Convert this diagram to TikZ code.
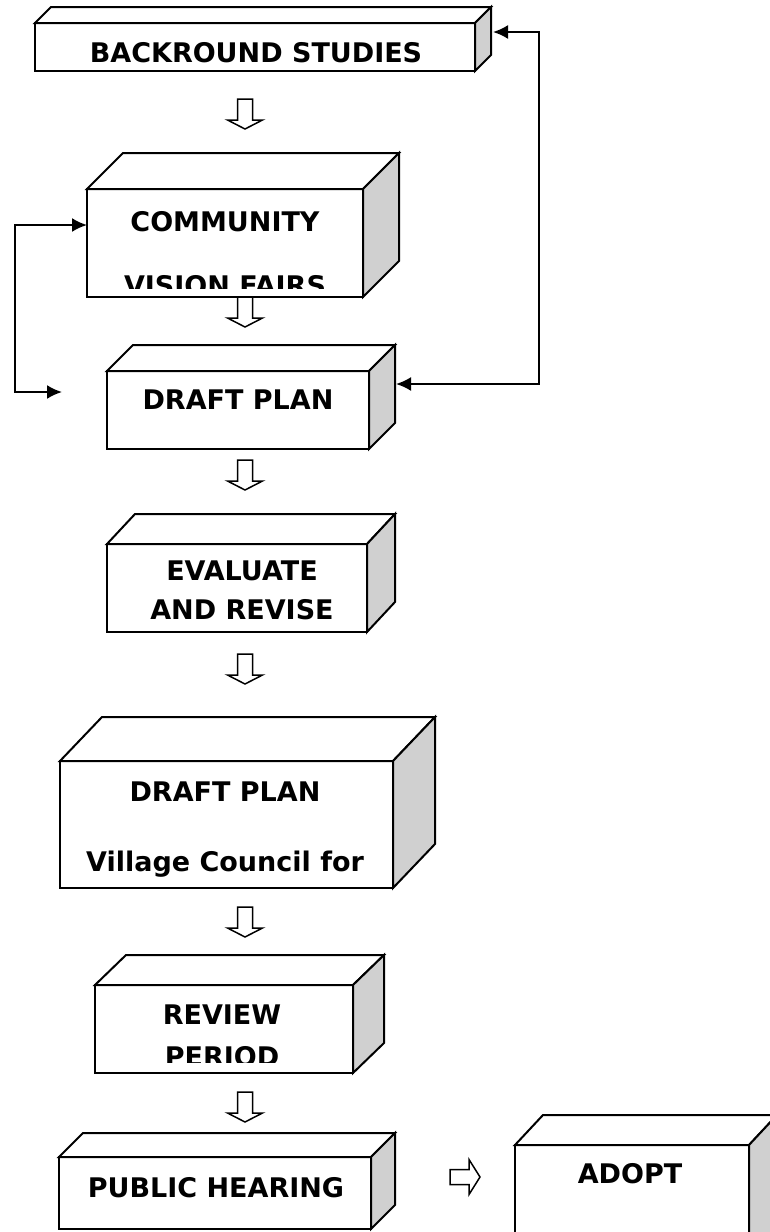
\documentclass[tikz,border=0pt]{standalone}
\usepackage{fontspec}
\setmainfont{DejaVu Sans}
\usetikzlibrary{arrows.meta}
\definecolor{sidegray}{RGB}{208,208,208}
\newcommand\threedbox[7]{%
  \node[frontface, minimum width=#4pt, minimum height=#5pt] (#1) at (#2,#3) {};
  \draw[topface] (#1.north west) -- ++(#6,-#7) -- ([shift={(#6,-#7)}]#1.north east) -- (#1.north east) -- cycle;
  \draw[sideface] (#1.north east) -- ++(#6,-#7) -- ([shift={(#6,-#7)}]#1.south east) -- (#1.south east) -- cycle;
}
\newcommand\flowarrow[3]{% name, x center, y top
  \draw[hollow] (#2-7.5,#3) coordinate (#1) -- (#2+7.5,#3) -- (#2+7.5,#3+21) -- (#2+17.5,#3+21) -- (#2,#3+30) -- (#2-17.5,#3+21) -- (#2-7.5,#3+21) -- cycle;
}
\begin{document}
\begin{tikzpicture}[x=1pt,y=-1pt,
  frontface/.style={draw=black, fill=white, line width=2pt, inner sep=0pt, outer sep=0pt, anchor=north west},
  topface/.style={draw=black, fill=white, line width=2pt, line join=miter},
  sideface/.style={draw=black, fill=sidegray, line width=2pt, line join=miter},
  lbl/.style={font=\bfseries\fontsize{27}{27}\selectfont, inner sep=0pt, anchor=center},
  hollow/.style={draw=black, fill=white, line width=1.5pt, line join=miter},
  fb/.style={line width=2pt, {Latex[length=15pt,width=14pt]}-{Latex[length=15pt,width=14pt]}}
]
\useasboundingbox (0,0) rectangle (770,1232);

% boxes
\threedbox{b1}{35}{23}{440}{48}{16}{16}
\threedbox{b2}{87}{189}{276}{108}{36}{36}
\threedbox{b3}{107}{371}{262}{78}{26}{26}
\threedbox{b4}{107}{544}{260}{88}{28}{30}
\threedbox{b5}{60}{761}{333}{127}{42}{44}
\threedbox{b6}{95}{985}{258}{88}{31}{30}
\threedbox{b7}{59}{1157}{312}{72}{24}{24}
\threedbox{b8}{515}{1145}{234}{120}{28}{30}

% labels (clipped to the front faces)
\begin{scope}
  \clip (b1.north west) rectangle ([yshift=7pt]b1.south east);
  \node[lbl] (t1) at (256,53) {BACKROUND STUDIES};
\end{scope}
\begin{scope}
  \clip (b2.north west) rectangle ([yshift=9pt]b2.south east);
  \node[lbl] (t2a) at (225,222) {COMMUNITY};
  \node[lbl] (t2b) at (225,286) {VISION FAIRS};
\end{scope}
\node[lbl] (t3) at (238,400) {DRAFT PLAN};
\node[lbl] (t4a) at (242,571) {EVALUATE};
\node[lbl] (t4b) at (242,610) {AND REVISE};
\node[lbl] (t5a) at (225,792) {DRAFT PLAN};
\node[lbl,anchor=base] (t5b) at (225,871) {Village Council for};
\begin{scope}
  \clip (b6.north west) rectangle ([yshift=11pt]b6.south east);
  \node[lbl] (t6a) at (222,1015) {REVIEW};
  \node[lbl] (t6b) at (222,1057) {PERIOD};
\end{scope}
\node[lbl] (t7) at (216,1188) {PUBLIC HEARING};
\node[lbl] (t8) at (630,1174) {ADOPT};

% hollow flow arrows
\flowarrow{a1}{245}{99}
\flowarrow{a2}{245}{297}
\flowarrow{a3}{245}{460}
\flowarrow{a4}{245}{654}
\flowarrow{a5}{245}{907}
\flowarrow{a6}{245}{1092}
\draw[hollow] (450,1169.5) coordinate (a7) -- (469,1169.5) -- (469,1159.5) -- (480,1177) -- (469,1194.5) -- (469,1184.5) -- (450,1184.5) -- cycle;

% feedback loops
\coordinate (r0) at ([xshift=18pt]b1.east);
\coordinate (r3) at ([xshift=27pt]b3.east);
\coordinate (r1) at (539,32);
\coordinate (r2) at (539,384);
\draw[fb] (r0 |- r1) -- (r1) -- (r2) -- (r3 |- r2);
\coordinate (l1) at (15,225);
\coordinate (l2) at (15,392);
\coordinate (lend) at (62,392);
\draw[fb] (b2.west |- l1) -- (l1) -- (l2) -- (lend);
\end{tikzpicture}
\end{document}
